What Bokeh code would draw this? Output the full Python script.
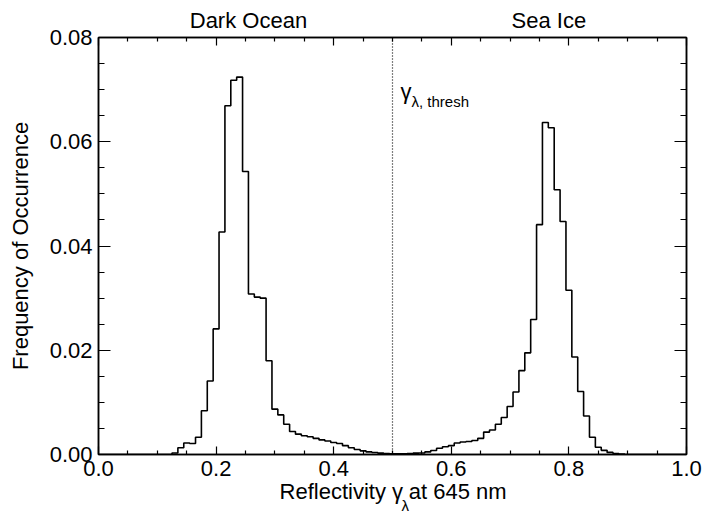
from bokeh.plotting import figure
from bokeh.models import (Range1d, FixedTicker, LinearAxis, Span, Label,
                          CustomJSTickFormatter)
from bokeh.embed import file_html
from bokeh.resources import INLINE

# ---- data ----
bin_centers = [0.00, 0.01, 0.02, 0.03, 0.04, 0.05, 0.06, 0.07, 0.08, 0.09,
               0.10, 0.11, 0.12, 0.13, 0.14, 0.15, 0.16, 0.17, 0.18, 0.19,
               0.20, 0.21, 0.22, 0.23, 0.24, 0.25, 0.26, 0.27, 0.28, 0.29,
               0.30, 0.31, 0.32, 0.33, 0.34, 0.35, 0.36, 0.37, 0.38, 0.39,
               0.40, 0.41, 0.42, 0.43, 0.44, 0.45, 0.46, 0.47, 0.48, 0.49,
               0.50, 0.51, 0.52, 0.53, 0.54, 0.55, 0.56, 0.57, 0.58, 0.59,
               0.60, 0.61, 0.62, 0.63, 0.64, 0.65, 0.66, 0.67, 0.68, 0.69,
               0.70, 0.71, 0.72, 0.73, 0.74, 0.75, 0.76, 0.77, 0.78, 0.79,
               0.80, 0.81, 0.82, 0.83, 0.84, 0.85, 0.86, 0.87, 0.88, 0.89,
               0.90, 0.91, 0.92, 0.93, 0.94, 0.95, 0.96, 0.97, 0.98, 0.99, 1.00]
frequency = [0, 0, 0, 0, 0, 0, 0, 0, 0, 0,
             0, 0, 0, 0.0003, 0.0013, 0.0022, 0.0021, 0.0033, 0.0084, 0.0141,
             0.0241, 0.0427, 0.0669, 0.0718, 0.0724, 0.0543, 0.0308, 0.0302, 0.0300, 0.0180,
             0.0087, 0.0076, 0.0058, 0.0044, 0.0039, 0.0036, 0.0034, 0.0031, 0.0028, 0.0026,
             0.0023, 0.0021, 0.0017, 0.0013, 0.00095, 0.0007, 0.0005, 0.00037, 0.00026, 0.0002,
             0.00015, 0.00013, 0.00015, 0.0002, 0.00026, 0.0003, 0.0005, 0.00077, 0.0012, 0.0015,
             0.0017, 0.0022, 0.0024, 0.0025, 0.0027, 0.0031, 0.0043, 0.0047, 0.0058, 0.0071,
             0.0092, 0.0120, 0.0161, 0.0195, 0.0259, 0.0441, 0.0637, 0.0627, 0.0508, 0.0447,
             0.0315, 0.0187, 0.0121, 0.0074, 0.0033, 0.0014, 0.0008, 0.0004, 0.0002, 0.0001,
             0, 0, 0, 0, 0, 0, 0, 0, 0, 0, 0]

x_ticks = [0.0, 0.2, 0.4, 0.6, 0.8, 1.0]
x_tick_labels = ["0.0", "0.2", "0.4", "0.6", "0.8", "1.0"]
x_minor = [0.05, 0.10, 0.15, 0.25, 0.30, 0.35, 0.45, 0.50, 0.55, 0.65, 0.70, 0.75, 0.85, 0.90, 0.95]
y_ticks = [0.00, 0.02, 0.04, 0.06, 0.08]
y_tick_labels = ["0.00", "0.02", "0.04", "0.06", "0.08"]
y_minor = [0.005, 0.010, 0.015, 0.025, 0.030, 0.035, 0.045, 0.050, 0.055, 0.065, 0.070, 0.075]
threshold = 0.5
regions = ["Dark Ocean", "Sea Ice"]
region_x = [0.255, 0.766]
xlabel_parts = ["Reflectivity γ", "at 645 nm"]
xlabel_x = [0.413, 0.611]
xlabel_sub = ["λ"]
xlabel_sub_x = [0.5216]

FONT = "Liberation Sans"
FS = "22px"

LOOKUP = ("let best = -1, d = 1e9;"
          "for (let i = 0; i < xs.length; i++) { const e = Math.abs(xs[i] - tick);"
          " if (e < d) { d = e; best = i; } }"
          "return (best >= 0 && d < 1e-6) ? names[best] : '';")


def lookup_formatter(ticks, names):
    return CustomJSTickFormatter(args=dict(xs=ticks, names=names), code=LOOKUP)


p = figure(width=704, height=521, output_backend="svg", toolbar_location=None,
           x_range=Range1d(0, 1), y_range=Range1d(0, 0.08),
           min_border_left=98, min_border_right=18, min_border_top=37, min_border_bottom=67)
p.grid.visible = False
p.outline_line_color = "black"
p.outline_line_width = 1.5
p.background_fill_color = "white"
p.border_fill_color = "white"

p.step(bin_centers, frequency, mode="center", line_color="black", line_width=1.6)

p.add_layout(Span(location=threshold, dimension="height", line_color="black",
                  line_width=1.2, line_dash="1 2"))


def style(ax, horiz, labels=True):
    ax.axis_line_color = "black"
    ax.axis_line_width = 1.5
    ax.major_tick_line_color = "black"
    ax.minor_tick_line_color = "black"
    ax.major_tick_line_width = 1.2
    ax.minor_tick_line_width = 1.2
    ax.major_tick_out = 0
    ax.minor_tick_out = 0
    if horiz:
        ax.major_tick_in = 8
        ax.minor_tick_in = 4
    else:
        ax.major_tick_in = 12
        ax.minor_tick_in = 6
    ax.major_label_text_font = FONT
    ax.major_label_text_font_size = FS
    ax.major_label_text_color = "black"
    if not labels:
        ax.formatter = CustomJSTickFormatter(code="return ''")
        ax.major_label_standoff = 0
        ax.major_label_text_font_size = "0px"


def text_axis(ticks, names, size, standoff):
    ax = LinearAxis(ticker=FixedTicker(ticks=ticks, minor_ticks=[]),
                    formatter=lookup_formatter(ticks, names))
    ax.axis_line_color = None
    ax.major_tick_line_color = None
    ax.minor_tick_line_color = None
    ax.major_tick_in = 0
    ax.major_tick_out = 0
    ax.minor_tick_in = 0
    ax.minor_tick_out = 0
    ax.major_label_text_font = FONT
    ax.major_label_text_font_size = size
    ax.major_label_text_color = "black"
    ax.major_label_standoff = standoff
    return ax


xt = FixedTicker(ticks=x_ticks, minor_ticks=x_minor)
yt = FixedTicker(ticks=y_ticks, minor_ticks=y_minor)

p.xaxis.ticker = xt
p.yaxis.ticker = yt
style(p.xaxis[0], True)
style(p.yaxis[0], False)
p.xaxis.formatter = lookup_formatter(x_ticks, x_tick_labels)
p.yaxis.formatter = lookup_formatter(y_ticks, y_tick_labels)
p.xaxis.major_label_standoff = 6
p.yaxis.major_label_standoff = 6

p.yaxis.axis_label = "Frequency of Occurrence"
p.yaxis.axis_label_text_font = FONT
p.yaxis.axis_label_text_font_size = FS
p.yaxis.axis_label_text_font_style = "normal"
p.yaxis.axis_label_text_color = "black"
p.yaxis.axis_label_standoff = 14

top = LinearAxis(ticker=xt)
style(top, True, labels=False)
p.add_layout(top, "above")
right = LinearAxis(ticker=yt)
style(right, False, labels=False)
p.add_layout(right, "right")

# region names above the frame
p.add_layout(text_axis(region_x, regions, FS, 5), "above")

# x axis title with a subscript
p.add_layout(text_axis(xlabel_x, xlabel_parts, FS, 0), "below")
p.add_layout(text_axis(xlabel_sub_x, xlabel_sub, "15px", -10), "below")

# threshold annotation
p.add_layout(Label(x=threshold, y=0.08, x_offset=8, y_offset=-54, text="γ", text_font=FONT,
                   text_font_size=FS, text_align="left", text_baseline="alphabetic",
                   text_color="black"))
p.add_layout(Label(x=threshold, y=0.08, x_offset=19, y_offset=-64, text="λ, thresh",
                   text_font=FONT, text_font_size="15px", text_align="left",
                   text_baseline="alphabetic", text_color="black"))

open("out.html", "w").write(file_html(p, INLINE))
